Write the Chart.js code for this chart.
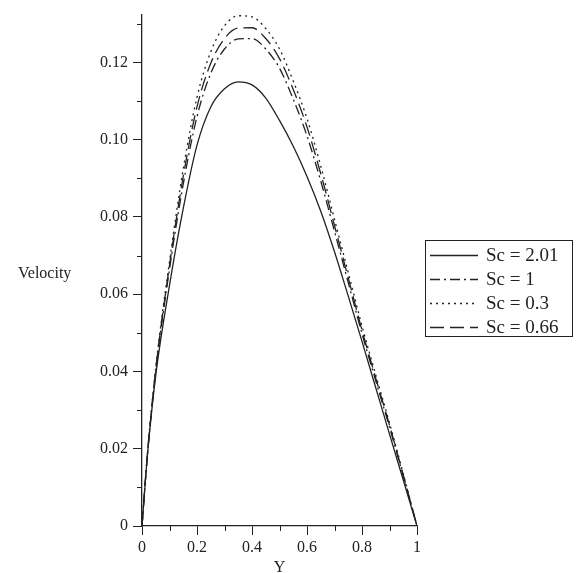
<!DOCTYPE html>
<html>
<head>
<meta charset="utf-8">
<script src="https://cdn.jsdelivr.net/npm/chart.js@4.4.1/dist/chart.umd.min.js"></script>
<style>
    html, body { margin: 0; padding: 0; background: #fff; }
    #wrap { width: 578px; height: 573px; }
</style>
</head>
<body>
<div id="wrap"><canvas id="velocityChart" width="578" height="573"></canvas></div>
<script>
// Y positions (horizontal axis)
const yPos = [0, 0.02, 0.05, 0.1, 0.15, 0.2, 0.25, 0.3, 0.35, 0.4, 0.45, 0.5,
              0.55, 0.6, 0.65, 0.7, 0.75, 0.8, 0.85, 0.9, 0.95, 1];

// velocity for each Sc
const sc201 = [0, 0.0185, 0.0390, 0.0623, 0.0822, 0.0986, 0.1085, 0.1132, 0.1150, 0.1142, 0.1108, 0.1050,
               0.0983, 0.0905, 0.0815, 0.0710, 0.0595, 0.0478, 0.0358, 0.0238, 0.0119, 0];
const sc1   = [0, 0.0186, 0.0400, 0.0665, 0.0885, 0.1060, 0.1172, 0.1235, 0.1261, 0.1262, 0.1235, 0.1185,
               0.1105, 0.1010, 0.0893, 0.0763, 0.0630, 0.0498, 0.0376, 0.0256, 0.0129, 0];
const sc03  = [0, 0.0190, 0.0410, 0.0685, 0.0925, 0.1110, 0.1228, 0.1295, 0.1321, 0.1318, 0.1288, 0.1235,
               0.1152, 0.1055, 0.0932, 0.0794, 0.0656, 0.0518, 0.0391, 0.0267, 0.0135, 0];
const sc066 = [0, 0.0188, 0.0405, 0.0675, 0.0905, 0.1085, 0.1198, 0.1262, 0.1289, 0.1290, 0.1262, 0.1210,
               0.1130, 0.1033, 0.0912, 0.0778, 0.0642, 0.0507, 0.0383, 0.0261, 0.0132, 0];

const seriesNames = ['Sc = 2.01', 'Sc = 1', 'Sc = 0.3', 'Sc = 0.66'];

const xTicks = [0, 0.2, 0.4, 0.6, 0.8, 1];
const xMinor = [0.1, 0.3, 0.5, 0.7, 0.9];
const yTicks = [0, 0.02, 0.04, 0.06, 0.08, 0.10, 0.12];
const yMinor = [0.01, 0.03, 0.05, 0.07, 0.09, 0.11, 0.13];

const ink = '#222';
const serif = "'Liberation Serif', 'DejaVu Serif', serif";

function toPoints(vals) {
    return yPos.map((y, i) => ({ x: y, y: vals[i] }));
}

function makeSet(label, vals, dash) {
    return {
        label: label,
        data: toPoints(vals),
        borderColor: ink,
        borderWidth: 1.3,
        borderDash: dash,
        pointRadius: 0,
        fill: false,
        cubicInterpolationMode: 'monotone'
    };
}

// minor ticks, horizontal "Velocity" label and the boxed legend
const extras = {
    id: 'extras',
    afterDraw(chart) {
        const ctx = chart.ctx;
        const xs = chart.scales.x;
        const ys = chart.scales.y;
        ctx.save();
        ctx.strokeStyle = ink;
        ctx.lineWidth = 1;
        ctx.beginPath();
        xMinor.forEach(v => {
            const px = Math.round(xs.getPixelForValue(v)) + 0.5;
            ctx.moveTo(px, xs.top);
            ctx.lineTo(px, xs.top + 5);
        });
        yMinor.forEach(v => {
            const py = Math.round(ys.getPixelForValue(v)) + 0.5;
            ctx.moveTo(ys.right, py);
            ctx.lineTo(ys.right - 5, py);
        });
        ctx.stroke();

        ctx.fillStyle = ink;
        ctx.font = '16px ' + serif;
        ctx.textBaseline = 'middle';
        ctx.textAlign = 'left';
        ctx.fillText('Velocity', 18, (chart.chartArea.top + chart.chartArea.bottom) / 2 + 3);

        // legend
        ctx.strokeRect(425.5, 240.5, 147, 96);
        ctx.font = '19px ' + serif;
        chart.data.datasets.forEach((ds, i) => {
            const y = 255 + i * 24;
            ctx.lineWidth = 1.3;
            ctx.setLineDash(ds.borderDash || []);
            ctx.beginPath();
            ctx.moveTo(430, y + 0.5);
            ctx.lineTo(478, y + 0.5);
            ctx.stroke();
            ctx.setLineDash([]);
            ctx.fillText(ds.label, 486, y + 1);
        });
        ctx.restore();
    }
};

const ctx = document.getElementById('velocityChart').getContext('2d');
const velocityChart = new Chart(ctx, {
    type: 'line',
    data: {
        datasets: [
            makeSet(seriesNames[0], sc201, []),
            makeSet(seriesNames[1], sc1, [10, 4, 2, 4]),
            makeSet(seriesNames[2], sc03, [2, 4]),
            makeSet(seriesNames[3], sc066, [14, 6])
        ]
    },
    options: {
        responsive: false,
        devicePixelRatio: 1,
        animation: false,
        layout: {
            padding: { left: 0, top: 12, right: 161, bottom: 0 }
        },
        plugins: {
            legend: { display: false },
            tooltip: { enabled: false }
        },
        scales: {
            x: {
                type: 'linear',
                min: 0,
                max: 1,
                afterBuildTicks: (scale) => {
                    scale.ticks = xTicks.map(v => ({ value: v }));
                },
                afterFit: (scale) => { scale.height = 47; },
                grid: { drawOnChartArea: false, tickLength: 9, tickColor: ink },
                border: { color: ink, width: 1.3 },
                ticks: {
                    color: ink,
                    padding: 3,
                    maxRotation: 0,
                    font: { family: serif, size: 16 },
                    callback: (v) => String(v)
                },
                title: {
                    display: true,
                    text: 'Y',
                    color: ink,
                    font: { family: serif, size: 16 },
                    padding: { top: 0, bottom: -4 }
                }
            },
            y: {
                type: 'linear',
                min: 0,
                max: 0.1324,
                afterBuildTicks: (scale) => {
                    scale.ticks = yTicks.map(v => ({ value: v }));
                },
                afterFit: (scale) => { scale.width = 142; },
                grid: { drawOnChartArea: false, tickLength: 9, tickColor: ink },
                border: { color: ink, width: 1.3 },
                ticks: {
                    color: ink,
                    padding: 5,
                    font: { family: serif, size: 16 },
                    callback: (v) => v === 0 ? '0' : v.toFixed(2)
                }
            }
        }
    },
    plugins: [extras]
});
</script>
</body>
</html>
